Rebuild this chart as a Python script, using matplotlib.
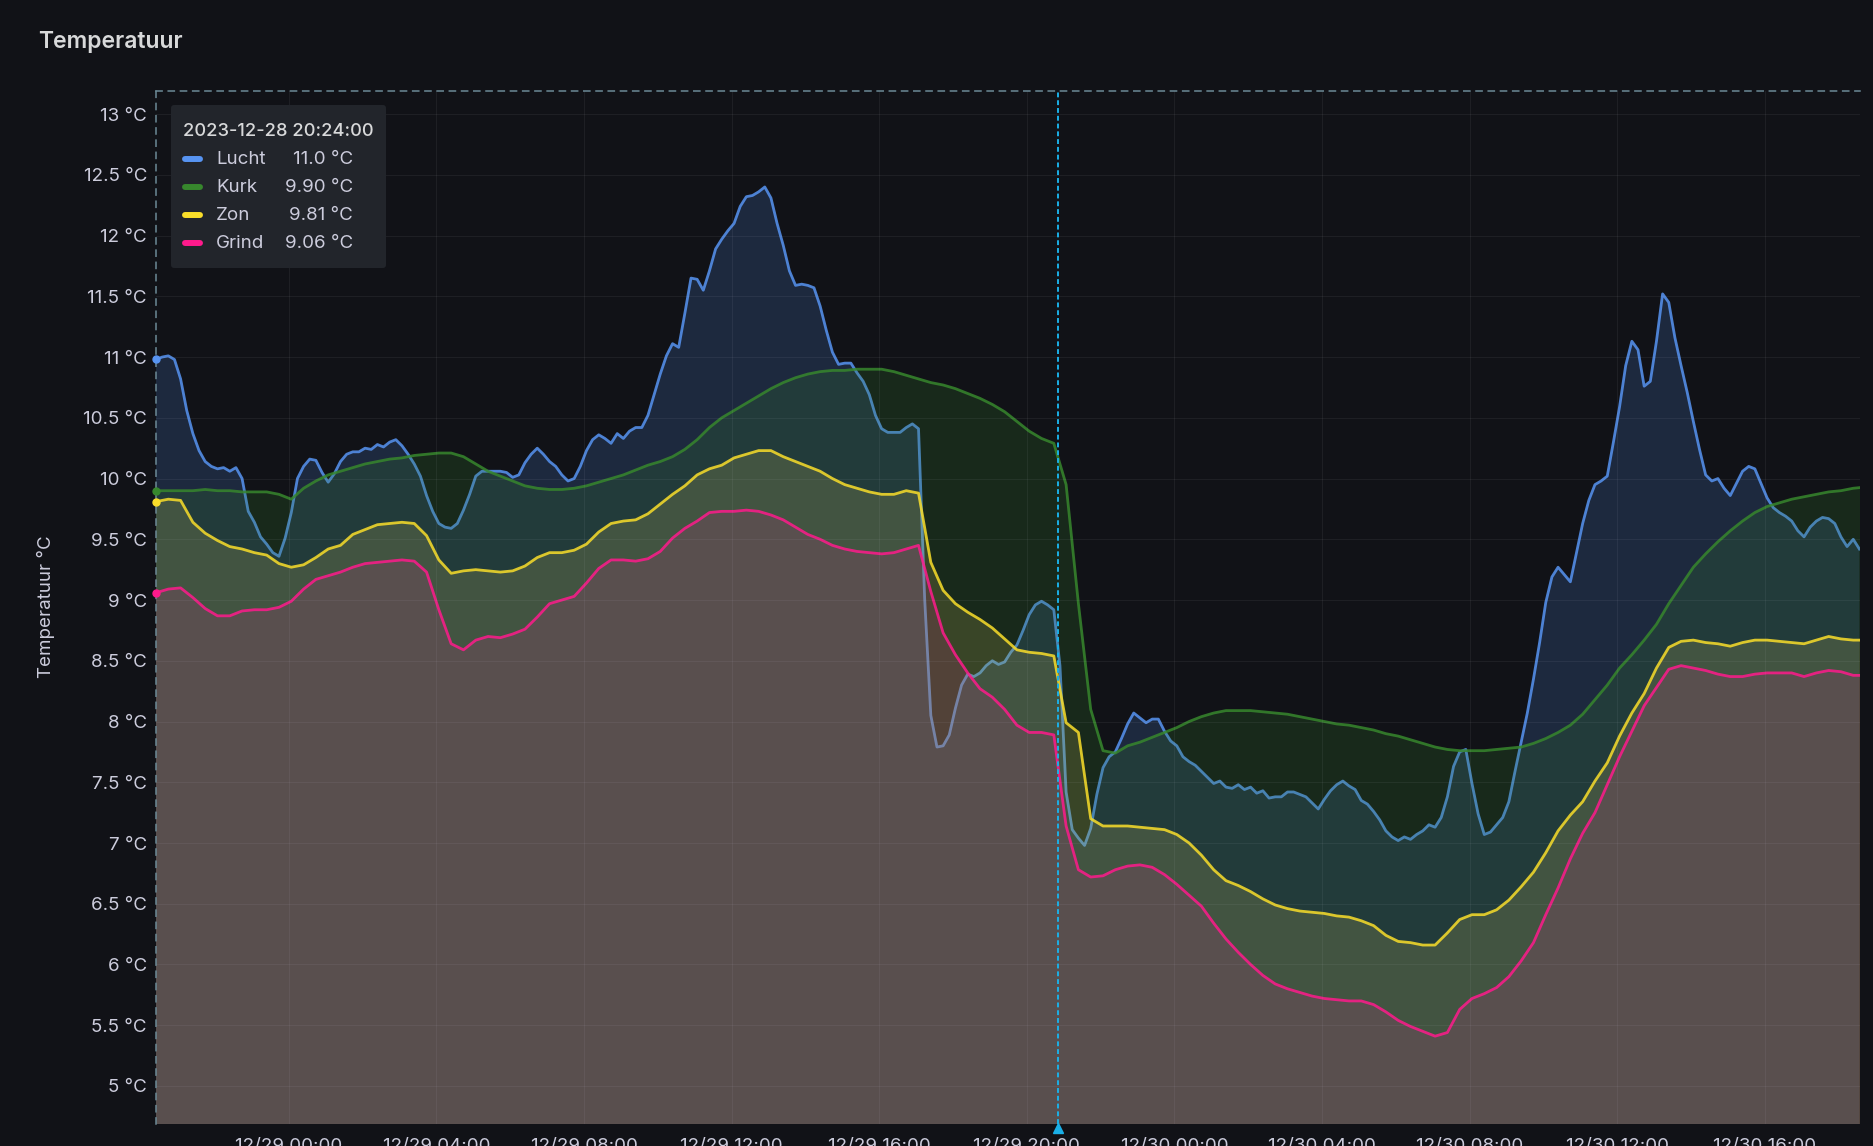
import numpy as np
import pandas as pd
import matplotlib
matplotlib.use("Agg")
from matplotlib import pyplot as plt
import matplotlib.dates as mdates
from matplotlib.patches import FancyBboxPatch
from matplotlib.lines import Line2D

plt.rcParams['font.family'] = ['Inter', 'DejaVu Sans']

W, H = 1874, 1146
BG = '#111217'
TEXT = '#ccccdc'
CURSOR = '#1ab0e8'

start = pd.Timestamp('2023-12-28 20:24')
end = pd.Timestamp('2023-12-30 18:35')
cursor = pd.Timestamp('2023-12-29 20:50')

# Lucht: one reading every 10 minutes from the start
lucht = [
    10.98, 11.00, 11.01, 10.98, 10.82, 10.56, 10.37, 10.23, 10.14, 10.10,
    10.08, 10.09, 10.06, 10.09, 10.00, 9.73, 9.64, 9.52, 9.46, 9.39,
    9.36, 9.51, 9.72, 10.00, 10.10, 10.16, 10.15, 10.05, 9.97, 10.04,
    10.14, 10.20, 10.22, 10.22, 10.25, 10.24, 10.28, 10.26, 10.30, 10.32,
    10.27, 10.20, 10.12, 10.02, 9.86, 9.73, 9.63, 9.60, 9.59, 9.63,
    9.74, 9.87, 10.02, 10.06, 10.06, 10.06, 10.06, 10.05, 10.01, 10.03,
    10.13, 10.20, 10.25, 10.20, 10.14, 10.10, 10.03, 9.98, 10.00, 10.10,
    10.23, 10.32, 10.36, 10.33, 10.29, 10.37, 10.33, 10.39, 10.42, 10.42,
    10.52, 10.69, 10.86, 11.01, 11.11, 11.08, 11.36, 11.65, 11.64, 11.55,
    11.71, 11.89, 11.97, 12.04, 12.10, 12.24, 12.32, 12.33, 12.36, 12.40,
    12.31, 12.10, 11.92, 11.71, 11.59, 11.60, 11.59, 11.57, 11.42, 11.22,
    11.04, 10.94, 10.95, 10.95, 10.87, 10.80, 10.69, 10.52, 10.41, 10.38,
    10.38, 10.38, 10.42, 10.45, 10.41, 9.01, 8.05, 7.79, 7.80, 7.89,
    8.11, 8.30, 8.39, 8.37, 8.40, 8.46, 8.50, 8.47, 8.49, 8.57,
    8.63, 8.75, 8.88, 8.96, 8.99, 8.96, 8.92, 8.46, 7.42, 7.11,
    7.04, 6.98, 7.12, 7.40, 7.62, 7.71, 7.75, 7.86, 7.98, 8.07,
    8.03, 7.99, 8.02, 8.02, 7.92, 7.84, 7.80, 7.71, 7.67, 7.64,
    7.59, 7.54, 7.49, 7.51, 7.46, 7.45, 7.48, 7.44, 7.46, 7.41,
    7.43, 7.37, 7.38, 7.38, 7.42, 7.42, 7.40, 7.38, 7.33, 7.28,
    7.36, 7.43, 7.48, 7.51, 7.47, 7.44, 7.35, 7.32, 7.26, 7.19,
    7.10, 7.05, 7.02, 7.05, 7.03, 7.07, 7.10, 7.15, 7.13, 7.21,
    7.38, 7.63, 7.75, 7.77, 7.49, 7.24, 7.07, 7.09, 7.15, 7.21,
    7.34, 7.59, 7.83, 8.07, 8.35, 8.65, 8.98, 9.19, 9.27, 9.21,
    9.15, 9.39, 9.63, 9.82, 9.95, 9.98, 10.02, 10.30, 10.59, 10.93,
    11.13, 11.06, 10.76, 10.80, 11.13, 11.52, 11.45, 11.16, 10.93, 10.71,
    10.47, 10.24, 10.03, 9.98, 10.00, 9.92, 9.86, 9.96, 10.06, 10.10,
    10.08, 9.96, 9.84, 9.76, 9.72, 9.69, 9.65, 9.57, 9.52, 9.60,
    9.65, 9.68, 9.67, 9.63, 9.52, 9.44, 9.50, 9.42,
]

# Kurk, Zon, Grind: one reading every 20 minutes from the start
kurk = [
    9.90, 9.90, 9.90, 9.90, 9.91, 9.90, 9.90, 9.89, 9.89, 9.89,
    9.87, 9.83, 9.92, 9.98, 10.03, 10.06, 10.09, 10.12, 10.14, 10.16,
    10.17, 10.19, 10.20, 10.21, 10.21, 10.18, 10.12, 10.06, 10.02, 9.98,
    9.94, 9.92, 9.91, 9.91, 9.92, 9.94, 9.97, 10.00, 10.03, 10.07,
    10.11, 10.14, 10.18, 10.24, 10.32, 10.42, 10.50, 10.56, 10.62, 10.68,
    10.74, 10.79, 10.83, 10.86, 10.88, 10.89, 10.89, 10.90, 10.90, 10.90,
    10.88, 10.85, 10.82, 10.79, 10.77, 10.74, 10.70, 10.66, 10.61, 10.55,
    10.47, 10.39, 10.33, 10.29, 9.95, 8.97, 8.10, 7.76, 7.74, 7.80,
    7.83, 7.87, 7.91, 7.95, 8.00, 8.04, 8.07, 8.09, 8.09, 8.09,
    8.08, 8.07, 8.06, 8.04, 8.02, 8.00, 7.98, 7.97, 7.95, 7.93,
    7.90, 7.88, 7.85, 7.82, 7.79, 7.77, 7.76, 7.76, 7.76, 7.77,
    7.78, 7.79, 7.82, 7.86, 7.91, 7.97, 8.06, 8.18, 8.30, 8.44,
    8.55, 8.67, 8.80, 8.97, 9.12, 9.27, 9.38, 9.48, 9.57, 9.65,
    9.72, 9.77, 9.80, 9.83, 9.85, 9.87, 9.89, 9.90, 9.92, 9.93,
]
zon = [
    9.81, 9.83, 9.82, 9.64, 9.55, 9.49, 9.44, 9.42, 9.39, 9.37,
    9.30, 9.27, 9.29, 9.35, 9.42, 9.45, 9.54, 9.58, 9.62, 9.63,
    9.64, 9.63, 9.53, 9.33, 9.22, 9.24, 9.25, 9.24, 9.23, 9.24,
    9.28, 9.35, 9.39, 9.39, 9.41, 9.46, 9.56, 9.63, 9.65, 9.66,
    9.71, 9.79, 9.87, 9.94, 10.03, 10.08, 10.11, 10.17, 10.20, 10.23,
    10.23, 10.18, 10.14, 10.10, 10.06, 10.00, 9.95, 9.92, 9.89, 9.87,
    9.87, 9.90, 9.88, 9.31, 9.08, 8.97, 8.90, 8.84, 8.77, 8.68,
    8.59, 8.57, 8.56, 8.54, 7.99, 7.91, 7.20, 7.14, 7.14, 7.14,
    7.13, 7.12, 7.11, 7.07, 7.00, 6.90, 6.78, 6.69, 6.65, 6.60,
    6.54, 6.49, 6.46, 6.44, 6.43, 6.42, 6.40, 6.39, 6.36, 6.32,
    6.24, 6.19, 6.18, 6.16, 6.16, 6.26, 6.37, 6.41, 6.41, 6.45,
    6.53, 6.64, 6.76, 6.92, 7.10, 7.23, 7.34, 7.51, 7.66, 7.88,
    8.07, 8.23, 8.44, 8.61, 8.66, 8.67, 8.65, 8.64, 8.62, 8.65,
    8.67, 8.67, 8.66, 8.65, 8.64, 8.67, 8.70, 8.68, 8.67, 8.67,
]
grind = [
    9.06, 9.09, 9.10, 9.02, 8.93, 8.87, 8.87, 8.91, 8.92, 8.92,
    8.94, 8.99, 9.09, 9.17, 9.20, 9.23, 9.27, 9.30, 9.31, 9.32,
    9.33, 9.32, 9.23, 8.92, 8.64, 8.59, 8.67, 8.70, 8.69, 8.72,
    8.76, 8.86, 8.97, 9.00, 9.03, 9.14, 9.26, 9.33, 9.33, 9.32,
    9.34, 9.40, 9.51, 9.59, 9.65, 9.72, 9.73, 9.73, 9.74, 9.73,
    9.70, 9.66, 9.60, 9.54, 9.50, 9.45, 9.42, 9.40, 9.39, 9.38,
    9.39, 9.42, 9.45, 9.07, 8.73, 8.55, 8.40, 8.27, 8.20, 8.10,
    7.97, 7.91, 7.91, 7.89, 7.14, 6.78, 6.72, 6.73, 6.78, 6.81,
    6.82, 6.80, 6.74, 6.66, 6.57, 6.48, 6.34, 6.21, 6.10, 6.00,
    5.91, 5.84, 5.80, 5.77, 5.74, 5.72, 5.71, 5.70, 5.70, 5.67,
    5.61, 5.54, 5.49, 5.45, 5.41, 5.44, 5.63, 5.72, 5.76, 5.81,
    5.90, 6.03, 6.18, 6.41, 6.63, 6.87, 7.08, 7.25, 7.48, 7.71,
    7.92, 8.13, 8.28, 8.43, 8.46, 8.44, 8.42, 8.39, 8.37, 8.37,
    8.39, 8.40, 8.40, 8.40, 8.37, 8.40, 8.42, 8.41, 8.38, 8.38,
]

t_lucht = pd.date_range(start, periods=len(lucht), freq='10min')
t_slow = pd.date_range(start, periods=len(kurk), freq='20min')

# name, times, values, line colour, fill colour, fill alpha
series = [
    ('Lucht', t_lucht, lucht, '#5794F2', '#5794F2', 0.18),
    ('Kurk', t_slow, kurk, '#37872D', '#37872D', 0.20),
    ('Zon', t_slow, zon, '#FADE2A', '#FAE66E', 0.15),
    ('Grind', t_slow, grind, '#FF1A8C', '#EB32A0', 0.14),
]


def fx(x):
    return x / W


def fy(y):
    return 1 - y / H


def fmt_value(v):
    return '{:.1f} °C'.format(v) if v >= 10 else '{:.2f} °C'.format(v)


fig = plt.figure(figsize=(W / 100, H / 100), dpi=100, facecolor=BG)
ax = fig.add_axes([fx(156), fy(1124), fx(1860) - fx(156), fy(91) - fy(1124)])
ax.set_facecolor(BG)

for k, (name, t, vals, color, fill, alpha) in enumerate(series):
    x = mdates.date2num(t)
    ax.fill_between(x, vals, 0, color=fill, alpha=alpha, lw=0, zorder=1 + k * 0.1)
    ax.plot(x, vals, color=color, lw=2.0, alpha=0.85, zorder=1.05 + k * 0.1,
            solid_joinstyle='round')
    ax.plot(x[0], vals[0], 'o', ms=5, color=color, clip_on=False, zorder=4)

ax.set_xlim(mdates.date2num(start), mdates.date2num(end))
ax.set_ylim(4.687, 13.19)
ax.set_yticks(np.arange(5, 13.01, 0.5))
ax.yaxis.set_major_formatter(plt.FuncFormatter(lambda v, p: '{:g} °C'.format(v)))
ax.xaxis.set_major_locator(mdates.HourLocator(byhour=range(0, 24, 4)))
ax.xaxis.set_major_formatter(mdates.DateFormatter('%m/%d %H:%M'))

ax.set_axisbelow('line')
ax.grid(True, color='#ccccdc', alpha=0.07, lw=0.8)
ax.tick_params(axis='both', length=0, colors=TEXT, labelsize=13.5)
ax.tick_params(axis='y', pad=6.5)
ax.tick_params(axis='x', pad=10)

for s in ['right', 'bottom']:
    ax.spines[s].set_visible(False)
for s in ['top', 'left']:
    ax.spines[s].set_color('#6c8a96')
    ax.spines[s].set_linewidth(1.1)
    ax.spines[s].set_linestyle((0, (4, 4)))

# hover crosshair
cx = mdates.date2num(cursor)
ax.axvline(cx, color=CURSOR, lw=1.4, ls=(0, (2.5, 1.5)), zorder=4)
ax.plot([cx], [-0.004], marker='^', ms=7, color=CURSOR, lw=0,
        transform=ax.get_xaxis_transform(), clip_on=False, zorder=5)

# titles
fig.text(fx(38), fy(42), 'Temperatuur', fontsize=16.5, fontweight='semibold',
         color='#d8d9da', va='center', ha='left')
fig.text(fx(46), fy(607), 'Temperatuur °C', rotation=90, fontsize=13.5,
         color=TEXT, va='center', ha='center')

# tooltip box
box = FancyBboxPatch((fx(171), fy(268)), fx(386) - fx(171), fy(105) - fy(268),
                     boxstyle='round,pad=0,rounding_size=0.0018', mutation_aspect=W / H,
                     transform=fig.transFigure, facecolor='#22252b', edgecolor='none', zorder=5)
fig.add_artist(box)
fig.text(fx(183), fy(132), start.strftime('%Y-%m-%d %H:%M:%S'), fontsize=13.2,
         fontweight='medium', color='#d8d9da', va='center', ha='left', zorder=6)
for k, (name, t, vals, color, fill, alpha) in enumerate(series):
    y = 160 + k * 28
    fig.add_artist(Line2D([fx(185), fx(200)], [fy(y - 1), fy(y - 1)], lw=4.3, color=color,
                          solid_capstyle='round', transform=fig.transFigure, zorder=6))
    fig.text(fx(216), fy(y), name, fontsize=13.5, color=TEXT, va='center', ha='left', zorder=6)
    fig.text(fx(353), fy(y), fmt_value(vals[0]), fontsize=13.5, color=TEXT,
             va='center', ha='right', zorder=6)

fig.savefig('out.png', dpi=100, facecolor=BG)
